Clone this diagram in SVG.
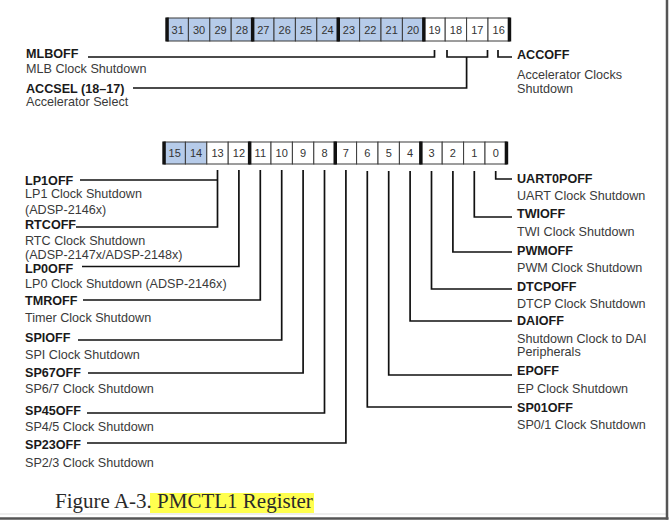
<svg xmlns="http://www.w3.org/2000/svg" width="670" height="521" viewBox="0 0 670 521">
<style>
.bg{fill:#fff}
.cb{fill:#b6cbe9;stroke:#3a3a3a;stroke-width:1}
.cw{fill:#fff;stroke:#3a3a3a;stroke-width:1}
.bar{fill:#111}
.num{font-family:"Liberation Sans",Arial,sans-serif;font-size:11px;fill:#333;text-anchor:middle}
.b{font-family:"Liberation Sans",Arial,sans-serif;font-size:12.6px;font-weight:bold;fill:#1a1a1a}
.r{font-family:"Liberation Sans",Arial,sans-serif;font-size:12.6px;fill:#3a3a3a}
.ln{fill:none;stroke:#111;stroke-width:1.7}
.cap{font-family:"Liberation Serif","Times New Roman",serif;font-size:21px;fill:#2a2a2a}
</style>
<rect class="bg" x="0" y="0" width="670" height="521"/>

<g id="register-top">
<rect class="cb" x="167" y="18" width="21.4" height="23"/><text class="num" x="177.7" y="33.5">31</text>
<rect class="cb" x="188.4" y="18" width="21.4" height="23"/><text class="num" x="199.1" y="33.5">30</text>
<rect class="cb" x="209.8" y="18" width="21.4" height="23"/><text class="num" x="220.5" y="33.5">29</text>
<rect class="cb" x="231.2" y="18" width="21.4" height="23"/><text class="num" x="241.9" y="33.5">28</text>
<rect class="cb" x="252.6" y="18" width="21.4" height="23"/><text class="num" x="263.3" y="33.5">27</text>
<rect class="cb" x="274" y="18" width="21.4" height="23"/><text class="num" x="284.7" y="33.5">26</text>
<rect class="cb" x="295.4" y="18" width="21.4" height="23"/><text class="num" x="306.1" y="33.5">25</text>
<rect class="cb" x="316.8" y="18" width="21.4" height="23"/><text class="num" x="327.5" y="33.5">24</text>
<rect class="cb" x="338.2" y="18" width="21.4" height="23"/><text class="num" x="348.9" y="33.5">23</text>
<rect class="cb" x="359.6" y="18" width="21.4" height="23"/><text class="num" x="370.3" y="33.5">22</text>
<rect class="cb" x="381" y="18" width="21.4" height="23"/><text class="num" x="391.7" y="33.5">21</text>
<rect class="cb" x="402.4" y="18" width="21.4" height="23"/><text class="num" x="413.1" y="33.5">20</text>
<rect class="cw" x="423.8" y="18" width="21.4" height="23"/><text class="num" x="434.5" y="33.5">19</text>
<rect class="cw" x="445.2" y="18" width="21.4" height="23"/><text class="num" x="455.9" y="33.5">18</text>
<rect class="cw" x="466.6" y="18" width="21.4" height="23"/><text class="num" x="477.3" y="33.5">17</text>
<rect class="cw" x="488" y="18" width="21.4" height="23"/><text class="num" x="498.7" y="33.5">16</text>
<rect class="bar" x="165.3" y="17.5" width="3.5" height="24"/>
<rect class="bar" x="250.9" y="17.5" width="3.5" height="24"/>
<rect class="bar" x="336.5" y="17.5" width="3.5" height="24"/>
<rect class="bar" x="422.1" y="17.5" width="3.5" height="24"/>
<rect class="bar" x="507.7" y="17.5" width="3.5" height="24"/>
</g>

<g id="register-bottom">
<rect class="cb" x="164" y="142" width="21.4" height="22"/><text class="num" x="174.7" y="157">15</text>
<rect class="cb" x="185.4" y="142" width="21.4" height="22"/><text class="num" x="196.1" y="157">14</text>
<rect class="cw" x="206.8" y="142" width="21.4" height="22"/><text class="num" x="217.5" y="157">13</text>
<rect class="cw" x="228.2" y="142" width="21.4" height="22"/><text class="num" x="238.9" y="157">12</text>
<rect class="cw" x="249.6" y="142" width="21.4" height="22"/><text class="num" x="260.3" y="157">11</text>
<rect class="cw" x="271" y="142" width="21.4" height="22"/><text class="num" x="281.7" y="157">10</text>
<rect class="cw" x="292.4" y="142" width="21.4" height="22"/><text class="num" x="303.1" y="157">9</text>
<rect class="cw" x="313.8" y="142" width="21.4" height="22"/><text class="num" x="324.5" y="157">8</text>
<rect class="cw" x="335.2" y="142" width="21.4" height="22"/><text class="num" x="345.9" y="157">7</text>
<rect class="cw" x="356.6" y="142" width="21.4" height="22"/><text class="num" x="367.3" y="157">6</text>
<rect class="cw" x="378" y="142" width="21.4" height="22"/><text class="num" x="388.7" y="157">5</text>
<rect class="cw" x="399.4" y="142" width="21.4" height="22"/><text class="num" x="410.1" y="157">4</text>
<rect class="cw" x="420.8" y="142" width="21.4" height="22"/><text class="num" x="431.5" y="157">3</text>
<rect class="cw" x="442.2" y="142" width="21.4" height="22"/><text class="num" x="452.9" y="157">2</text>
<rect class="cw" x="463.6" y="142" width="21.4" height="22"/><text class="num" x="474.3" y="157">1</text>
<rect class="cw" x="485" y="142" width="21.4" height="22"/><text class="num" x="495.7" y="157">0</text>
<rect class="bar" x="162.3" y="141.5" width="3.5" height="23"/>
<rect class="bar" x="247.9" y="141.5" width="3.5" height="23"/>
<rect class="bar" x="333.5" y="141.5" width="3.5" height="23"/>
<rect class="bar" x="419.1" y="141.5" width="3.5" height="23"/>
<rect class="bar" x="504.7" y="141.5" width="3.5" height="23"/>
</g>

<g id="connectors">
<path class="ln" d="M434.5 50V57H88"/>
<path class="ln" d="M447 50V57H487.5V50"/>
<path class="ln" d="M466.6 57V88H133"/>
<path class="ln" d="M498 50V57H512"/>
<path class="ln" d="M217.5 170V227H76"/>
<path class="ln" d="M217.5 180H80"/>
<path class="ln" d="M238.9 170V266.5H82"/>
<path class="ln" d="M260.3 170V300H83"/>
<path class="ln" d="M281.7 170V340H78"/>
<path class="ln" d="M303.1 170V373H88"/>
<path class="ln" d="M324.5 170V413H87"/>
<path class="ln" d="M345.9 170V443H87"/>
<path class="ln" d="M495.7 171V179H512"/>
<path class="ln" d="M474.3 171V217H512"/>
<path class="ln" d="M452.9 171V252H512"/>
<path class="ln" d="M431.5 171V289H512"/>
<path class="ln" d="M410.1 171V321H512"/>
<path class="ln" d="M388.7 171V375H512"/>
<path class="ln" d="M367.3 171V407H512"/>
</g>

<g id="mlboff"><text class="b" x="26" y="57.5">MLBOFF</text><text class="r" x="26" y="72.5">MLB Clock Shutdown</text></g>
<g id="accsel"><text class="b" x="26" y="92.5">ACCSEL (18–17)</text><text class="r" x="26" y="106">Accelerator Select</text></g>
<g id="accoff"><text class="b" x="517" y="59">ACCOFF</text><text class="r" x="517" y="79">Accelerator Clocks</text><text class="r" x="517" y="92.5">Shutdown</text></g>

<g id="lp1off"><text class="b" x="25" y="184.5">LP1OFF</text><text class="r" x="25" y="197.5">LP1 Clock Shutdown</text><text class="r" x="25" y="214">(ADSP-2146x)</text></g>
<g id="rtcoff"><text class="b" x="25" y="229">RTCOFF</text><text class="r" x="25" y="245">RTC Clock Shutdown</text><text class="r" x="25" y="258.5">(ADSP-2147x/ADSP-2148x)</text></g>
<g id="lp0off"><text class="b" x="25" y="273">LP0OFF</text><text class="r" x="25" y="288">LP0 Clock Shutdown (ADSP-2146x)</text></g>
<g id="tmroff"><text class="b" x="25" y="304.5">TMROFF</text><text class="r" x="25" y="321.5">Timer Clock Shutdown</text></g>
<g id="spioff"><text class="b" x="25" y="341.5">SPIOFF</text><text class="r" x="25" y="358.5">SPI Clock Shutdown</text></g>
<g id="sp67off"><text class="b" x="25" y="377">SP67OFF</text><text class="r" x="25" y="393">SP6/7 Clock Shutdown</text></g>
<g id="sp45off"><text class="b" x="25" y="414.5">SP45OFF</text><text class="r" x="25" y="431">SP4/5 Clock Shutdown</text></g>
<g id="sp23off"><text class="b" x="25" y="449">SP23OFF</text><text class="r" x="25" y="466.5">SP2/3 Clock Shutdown</text></g>

<g id="uart0poff"><text class="b" x="517" y="182.5">UART0POFF</text><text class="r" x="517" y="200">UART Clock Shutdown</text></g>
<g id="twioff"><text class="b" x="517" y="218">TWIOFF</text><text class="r" x="517" y="236">TWI Clock Shutdown</text></g>
<g id="pwmoff"><text class="b" x="517" y="255">PWMOFF</text><text class="r" x="517" y="272">PWM Clock Shutdown</text></g>
<g id="dtcpoff"><text class="b" x="517" y="290.5">DTCPOFF</text><text class="r" x="517" y="308">DTCP Clock Shutdown</text></g>
<g id="daioff"><text class="b" x="517" y="325">DAIOFF</text><text class="r" x="517" y="343">Shutdown Clock to DAI</text><text class="r" x="517" y="356">Peripherals</text></g>
<g id="epoff"><text class="b" x="517" y="375">EPOFF</text><text class="r" x="517" y="392.5">EP Clock Shutdown</text></g>
<g id="sp01off"><text class="b" x="517" y="411.5">SP01OFF</text><text class="r" x="517" y="428.5">SP0/1 Clock Shutdown</text></g>

<g id="caption">
<rect x="150" y="493" width="164" height="20" fill="#ffff4f"/>
<text class="cap" x="55" y="508">Figure A-3. PMCTL1 Register</text>
</g>

<g id="frame">
<line x1="0" y1="514" x2="666" y2="514" stroke="#ddd" stroke-width="1"/>
<line x1="0" y1="518.5" x2="668.5" y2="518.5" stroke="#555" stroke-width="2.5"/>
<line x1="667" y1="0" x2="667" y2="519.5" stroke="#555" stroke-width="2.5"/>
</g>
</svg>
